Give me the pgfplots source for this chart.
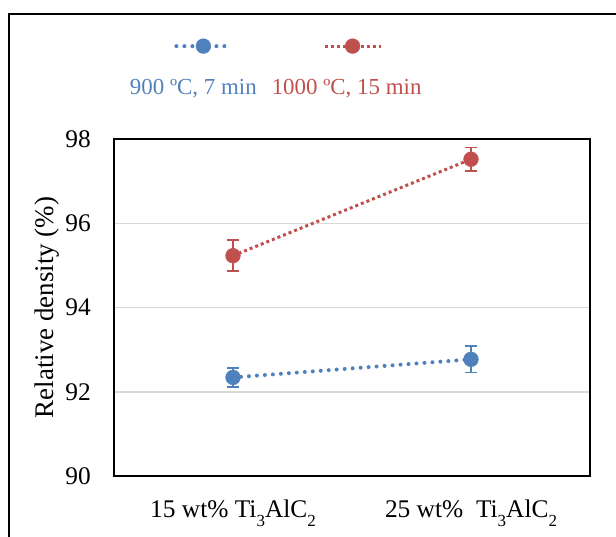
\documentclass[border=0pt]{standalone}
\usepackage{pgfplots}
\pgfplotsset{compat=1.18}
\usepackage{pgfplotstable}
\usepackage{fontspec}
\setmainfont{Liberation Serif}

\definecolor{serA}{HTML}{4F81BD}
\definecolor{serB}{HTML}{C0504D}
\definecolor{gridc}{HTML}{D9D9D9}

\newcommand\tickfont{\fontsize{25.5}{30}\selectfont}
\newcommand\labfont{\fontsize{27}{32}\selectfont}
\newcommand\legfont{\fontsize{23}{28}\selectfont}
% dropped chemical subscript
\newcommand\sub[1]{\raisebox{-0.36em}{\fontsize{17}{20}\selectfont #1}}

% relative density: mean and half-width of the error bar
\pgfplotstableread{
x y e
0 92.34 0.23
1 92.77 0.31
}\shortrun
\pgfplotstableread{
x y e
0 95.23 0.37
1 97.52 0.28
}\longrun

% legend entries: sample line with marker, caption underneath
\pgfplotsset{
  legA/.style={legend image code/.code={
      \draw[mark repeat=2,mark phase=2,##1] plot coordinates {(-27bp,0bp) (0bp,0bp) (27bp,0bp)};
      \node[text=serA,font=\legfont,anchor=base,inner sep=0pt] at (-10bp,-48bp) {900 ºC, 7 min};
  }},
  legB/.style={legend image code/.code={
      \draw[mark repeat=2,mark phase=2,##1] plot coordinates {(-28bp,0bp) (0bp,0bp) (28bp,0bp)};
      \node[text=serB,font=\legfont,anchor=base,inner sep=0pt] at (-6bp,-48bp) {1000 ºC, 15 min};
  }},
}

\begin{document}
\begin{tikzpicture}
\useasboundingbox (0,0) rectangle (616bp,-537bp);
\draw[line width=2bp] (8.5bp,-545bp) -- (8.5bp,-13.5bp) -- (625bp,-13.5bp);
\begin{axis}[
  at={(114bp,-476bp)}, anchor=south west,
  scale only axis, width=476bp, height=337bp,
  xmin=-0.5, xmax=1.5, ymin=90, ymax=98,
  xtick={0,1},
  xticklabels={15 wt\% Ti\sub{3}AlC\sub{2}, 25 wt\%\ \ Ti\sub{3}AlC\sub{2}},
  ytick={90,92,...,98},
  major tick length=0pt,
  ymajorgrids, grid style={gridc, line width=1.5bp},
  axis line style={line width=1.8bp, black},
  tick label style={font=\tickfont},
  /pgf/number format/assume math mode=true,
  yticklabel style={inner sep=0pt, xshift=-23bp},
  xticklabel style={inner sep=0pt, yshift=-24bp},
  ylabel={Relative density (\%)},
  ylabel style={font=\labfont, at={(axis description cs:-0.14,0.5)}, anchor=center},
  legend columns=2,
  legend style={draw=none, fill=none, inner sep=0pt, outer sep=0pt,
    at={(0.0336,1.2976)}, anchor=north west, column sep=7bp,
    nodes={inner sep=0pt}},
]
\addplot[serA, line width=4bp, line cap=round, dash pattern=on 0bp off 8bp,
  mark=*, mark size=7.4bp,
  mark options={solid, fill=serA, draw=serA, line width=0.4bp},
  legA,
  error bars/.cd, y dir=both, y explicit,
  error bar style={solid, line width=1.6bp, line cap=butt, serA},
  error mark options={rotate=90, solid, line width=1.6bp, line cap=butt, mark size=6bp, serA}]
  table[x=x, y=y, y error=e] {\shortrun};
\addlegendentry{}
\addplot[serB, line width=3bp, line cap=butt, dash pattern=on 3bp off 3bp,
  mark=*, mark size=7.4bp,
  mark options={solid, fill=serB, draw=serB, line width=0.4bp},
  legB,
  error bars/.cd, y dir=both, y explicit,
  error bar style={solid, line width=1.6bp, line cap=butt, serB},
  error mark options={rotate=90, solid, line width=1.6bp, line cap=butt, mark size=6bp, serB}]
  table[x=x, y=y, y error=e] {\longrun};
\addlegendentry{}
\end{axis}
\end{tikzpicture}
\end{document}
